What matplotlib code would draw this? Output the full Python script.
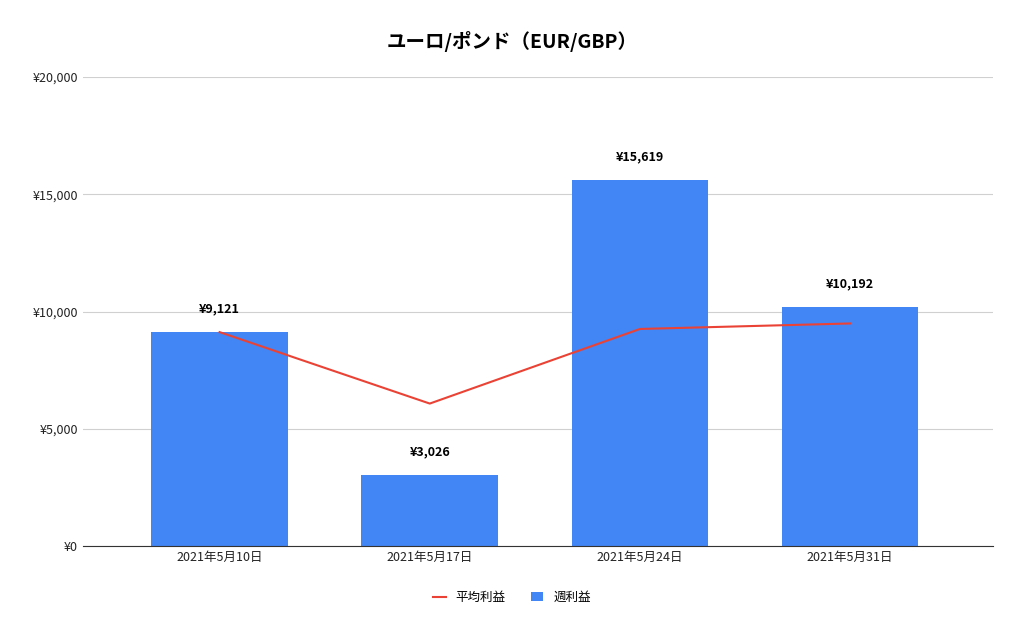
import matplotlib.pyplot as plt
from matplotlib.ticker import FuncFormatter

plt.rcParams['font.family'] = ['Noto Sans CJK JP', 'DejaVu Sans']

dates = ['2021年5月10日', '2021年5月17日', '2021年5月24日', '2021年5月31日']
weekly = [9121, 3026, 15619, 10192]
average = [9121, 6074, 9255, 9490]

fig = plt.figure(figsize=(10.24, 6.28), dpi=100)
ax = fig.add_axes([83 / 1024, 1 - 546 / 628, 910 / 1024, 469 / 628])

x = range(len(dates))
ax.bar(x, weekly, width=0.65, color='#4285f4', label='週利益', zorder=2)
ax.plot(x, average, color='#ea4335', lw=1.5, label='平均利益', zorder=3)
for i, v in enumerate(weekly):
    ax.text(i, v + 700, f'¥{v:,}', ha='center', va='bottom', fontsize=9, fontweight='bold')

ax.set_xlim(-0.65, 3.68)
ax.set_ylim(0, 20000)
ax.set_yticks([0, 5000, 10000, 15000, 20000])
ax.yaxis.set_major_formatter(FuncFormatter(lambda v, p: f'¥{int(v):,}'))
ax.set_xticks(list(x))
ax.set_xticklabels(dates)
ax.tick_params(length=0, labelsize=9, colors='#222222')
ax.grid(axis='y', color='#d0d0d0', lw=0.8, zorder=0)
for s in ['top', 'right', 'left']:
    ax.spines[s].set_visible(False)
ax.spines['bottom'].set_color('#333333')

fig.suptitle('ユーロ/ポンド（EUR/GBP）', y=0.95, fontsize=14, fontweight='bold')
fig.legend(loc='lower center', bbox_to_anchor=(0.5, 0.02), ncol=2, frameon=False,
           fontsize=9, handlelength=1.0)

fig.savefig('out.png', dpi=100, facecolor='white')
